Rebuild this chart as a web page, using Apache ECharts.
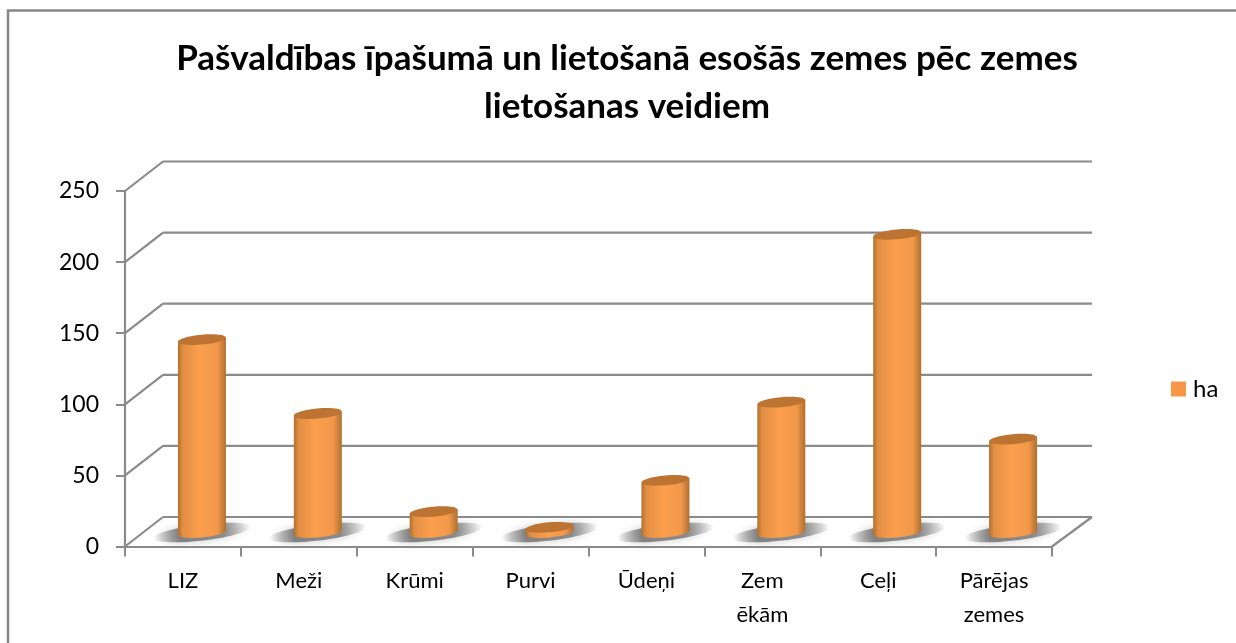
<!DOCTYPE html>
<html>
<head>
<meta charset="utf-8">
<style>
  html, body { margin: 0; padding: 0; background: #fff; overflow: hidden; }
  #chart { width: 1236px; height: 643px; }
</style>
<script src="https://cdn.jsdelivr.net/npm/echarts@6/dist/echarts.min.js"></script>
</head>
<body>
<div id="chart"></div>
<script>
const categories = ["LIZ", "Meži", "Krūmi", "Purvi", "Ūdeņi", "Zem\nēkām", "Ceļi", "Pārējas\nzemes"];
const hectares = [136, 84, 15, 4, 37, 92, 210, 66];
const yTicks = [0, 50, 100, 150, 200, 250];

const FONT = "Lato";
const GREY = "#8a8a8a";
// pseudo 3D depth of the floor, in pixels
const DEPTH_X = 38;
const DEPTH_RIGHT = 40;
const DEPTH_Y = 29.5;
const RADIUS_X = 24;
const RADIUS_Y = 5;
const TILT = 0.09;

const bodyFill = {
  type: "linear", x: 0, y: 0, x2: 1, y2: 0,
  colorStops: [
    { offset: 0, color: "#b0702f" },
    { offset: 0.1, color: "#e28e43" },
    { offset: 0.45, color: "#fb9f4d" },
    { offset: 0.82, color: "#f2984a" },
    { offset: 1, color: "#b0702f" },
  ],
};

const chart = echarts.init(document.getElementById("chart"), null, { renderer: "canvas" });

const renderWall = (params, api) => {
  const value = api.value(0);
  const [left, y0] = api.coord([0, value]);
  const step = api.size([1, 0])[0];
  const start = left - step / 2;
  const right = start + step * categories.length;
  const line = (x1, y1, x2, y2) => ({
    type: "line",
    shape: { x1, y1, x2, y2 },
    style: { stroke: GREY, lineWidth: 2.2, fill: null },
    silent: true,
  });
  const children = [
    line(start, y0, start + DEPTH_X, y0 - DEPTH_Y),
    line(start + DEPTH_X, y0 - DEPTH_Y, right + DEPTH_RIGHT, y0 - DEPTH_Y),
  ];
  if (value === 0) {
    children.push(line(right, y0, right + DEPTH_RIGHT, y0 - DEPTH_Y));
  }
  return { type: "group", children };
};

const renderCylinder = (params, api) => {
  const [cx, y0] = api.coord([api.value(0), 0]);
  const [, yTop] = api.coord([api.value(0), api.value(1)]);
  const x = cx + DEPTH_X / 2;
  const base = y0 - 14;
  const top = yTop - 13.5;
  const dy = RADIUS_X * TILT;
  return {
    type: "group",
    children: [
      {
        type: "ellipse",
        shape: { cx: x, cy: base, rx: 49, ry: 8 },
        rotation: 0.12,
        originX: x,
        originY: base,
        silent: true,
        style: {
          fill: {
            type: "linear", x: 0, y: 0, x2: 1, y2: 0,
            colorStops: [
              { offset: 0, color: "rgba(125,125,125,0)" },
              { offset: 0.26, color: "rgba(125,125,125,0.95)" },
              { offset: 0.72, color: "rgba(125,125,125,0.85)" },
              { offset: 1, color: "rgba(125,125,125,0)" },
            ],
          },
          shadowBlur: 8,
          shadowColor: "rgba(125,125,125,0.45)",
        },
      },
      {
        type: "ellipse",
        shape: { cx: x, cy: base, rx: RADIUS_X, ry: RADIUS_Y },
        rotation: TILT,
        originX: x,
        originY: base,
        silent: true,
        style: { fill: bodyFill },
      },
      {
        type: "polygon",
        shape: {
          points: [
            [x - RADIUS_X, top + dy],
            [x - RADIUS_X, base + dy],
            [x + RADIUS_X, base - dy],
            [x + RADIUS_X, top - dy],
          ],
        },
        silent: true,
        style: { fill: bodyFill },
      },
      {
        type: "ellipse",
        shape: { cx: x, cy: top, rx: RADIUS_X, ry: RADIUS_Y },
        rotation: TILT,
        originX: x,
        originY: top,
        silent: true,
        style: { fill: "#bd7433" },
      },
    ],
  };
};

chart.setOption({
  animation: false,
  backgroundColor: "#fff",
  title: {
    text: "Pašvaldības īpašumā un lietošanā esošās zemes pēc zemes\nlietošanas veidiem",
    left: 622,
    top: 30,
    textAlign: "center",
    textStyle: { fontFamily: FONT, fontWeight: "bold", fontSize: 35, lineHeight: 48, color: "#000" },
  },
  legend: {
    left: 1166,
    top: 372,
    itemWidth: 15,
    itemHeight: 15,
    itemGap: 0,
    icon: "rect",
    data: [{ name: "ha", itemStyle: { color: "#f79646" } }],
    textStyle: { fontFamily: FONT, fontSize: 24, color: "#000", padding: [0, 0, 0, 2] },
  },
  grid: { left: 125, right: 184, top: 191, bottom: 96.5 },
  xAxis: {
    type: "category",
    data: categories,
    boundaryGap: true,
    axisLine: { lineStyle: { color: GREY, width: 2.2 } },
    axisTick: { show: true, alignWithLabel: false, length: 10, lineStyle: { color: GREY, width: 2 } },
    axisLabel: { fontFamily: FONT, fontSize: 22, lineHeight: 34, color: "#000", margin: 17, interval: 0 },
  },
  yAxis: {
    type: "value",
    min: 0,
    max: 250,
    interval: 50,
    axisLine: { show: true, lineStyle: { color: GREY, width: 2.2 } },
    axisTick: { show: true, length: 9, lineStyle: { color: GREY, width: 2 } },
    axisLabel: { fontFamily: FONT, fontSize: 23, color: "#000", margin: 26, padding: [4, 0, 0, 0] },
    splitLine: { show: false },
  },
  series: [
    {
      type: "custom",
      name: "walls",
      renderItem: renderWall,
      data: yTicks.map((tick) => [tick]),
      encode: { y: 0 },
      silent: true,
      z: 1,
    },
    {
      type: "custom",
      name: "ha",
      renderItem: renderCylinder,
      data: hectares.map((value, index) => [index, value]),
      encode: { x: 0, y: 1 },
      itemStyle: { color: "#f79646" },
      silent: true,
      z: 3,
    },
  ],
  graphic: [
    {
      type: "rect",
      shape: { x: 8, y: 10.5, width: 1300, height: 700 },
      style: { fill: null, stroke: "#868686", lineWidth: 2.5 },
      silent: true,
      z: 10,
    },
  ],
});
</script>
</body>
</html>
